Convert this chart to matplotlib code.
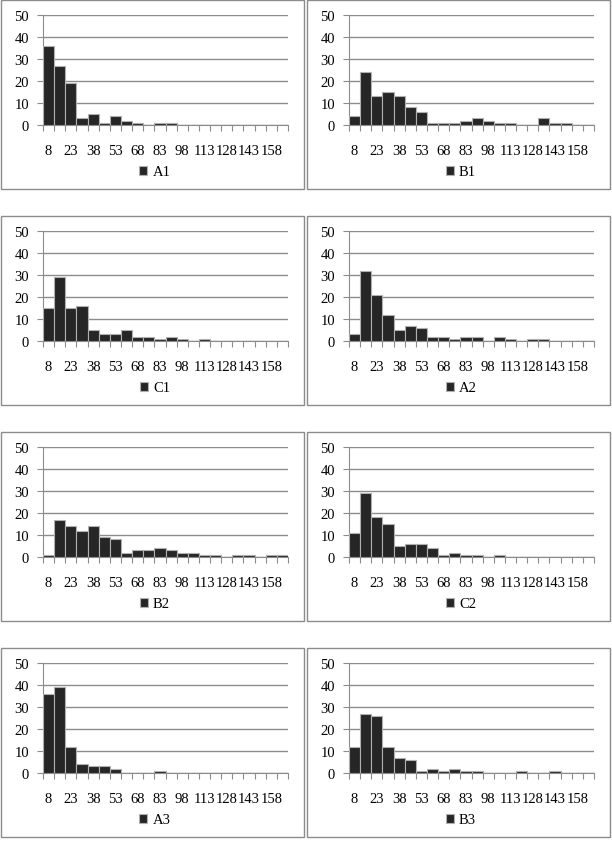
import numpy as np
import matplotlib
matplotlib.use("Agg")
import matplotlib.pyplot as plt
from matplotlib.patches import Rectangle

# bins of the histograms (labels shown on every other bin)
bins = ["8", "15", "23", "30", "38", "45", "53", "60", "68", "75", "83",
        "90", "98", "105", "113", "120", "128", "135", "143", "150", "158", "165"]

A1 = [36, 27, 19, 3, 5, 1, 4, 2, 1, 0, 1, 1, 0, 0, 0, 0, 0, 0, 0, 0, 0, 0]
B1 = [4, 24, 13, 15, 13, 8, 6, 1, 1, 1, 2, 3, 2, 1, 1, 0, 0, 3, 1, 1, 0, 0]
C1 = [15, 29, 15, 16, 5, 3, 3, 5, 2, 2, 1, 2, 1, 0, 1, 0, 0, 0, 0, 0, 0, 0]
A2 = [3, 32, 21, 12, 5, 7, 6, 2, 2, 1, 2, 2, 0, 2, 1, 0, 1, 1, 0, 0, 0, 0]
B2 = [1, 17, 14, 12, 14, 9, 8, 2, 3, 3, 4, 3, 2, 2, 1, 1, 0, 1, 1, 0, 1, 1]
C2 = [11, 29, 18, 15, 5, 6, 6, 4, 1, 2, 1, 1, 0, 1, 0, 0, 0, 0, 0, 0, 0, 0]
A3 = [36, 39, 12, 4, 3, 3, 2, 0, 0, 0, 1, 0, 0, 0, 0, 0, 0, 0, 0, 0, 0, 0]
B3 = [12, 27, 26, 12, 7, 6, 1, 2, 1, 2, 1, 1, 0, 0, 0, 1, 0, 0, 1, 0, 0, 0]

names = ["A1", "B1", "C1", "A2", "B2", "C2", "A3", "B3"]
series = [A1, B1, C1, A2, B2, C2, A3, B3]

plt.rcParams['font.family'] = ['Liberation Serif', 'DejaVu Serif']

W, H = 612, 853
fig = plt.figure(figsize=(W / 100, H / 100), dpi=100)

grey = "#8c8c8c"
fs = 10.5
n = len(bins)
x = np.arange(n)

for i, (name, vals) in enumerate(zip(names, series)):
    col, row = i % 2, i // 2
    pl = 1 + col * 306
    pt = 1 + row * 216
    # panel frame
    fig.patches.append(Rectangle((pl / W, 1 - (pt + 189) / H), 303 / W, 189 / H,
                                 transform=fig.transFigure, fill=False,
                                 edgecolor=grey, linewidth=1.0))
    ax = fig.add_axes([(pl + 42) / W, 1 - (pt + 125) / H, 245 / W, 110 / H])
    ax.bar(x, vals, width=1.0, color="#262626", edgecolor="#b0b0b0",
           linewidth=0.8, label=name, zorder=3)
    ax.set_xlim(-0.5, n - 0.5)
    ax.set_ylim(0, 50)
    ax.set_yticks(range(0, 51, 10))
    ax.yaxis.grid(True, color=grey, linewidth=1.0, zorder=0)
    for s in ["top", "right"]:
        ax.spines[s].set_visible(False)
    ax.spines["left"].set_color(grey)
    ax.spines["bottom"].set_color(grey)
    ax.set_xticks(np.arange(n + 1) - 0.5)
    ax.set_xticklabels([])
    ax.set_xticks(x[::2], minor=True)
    ax.set_xticklabels(bins[::2], minor=True)
    ax.tick_params(axis="x", which="major", length=4, color=grey, direction="out")
    ax.tick_params(axis="x", which="minor", length=0, pad=14, labelsize=fs)
    ax.tick_params(axis="y", length=4, color=grey, pad=6, labelsize=fs)
    ax.legend(loc="center", bbox_to_anchor=((pl + 154) / W, 1 - (pt + 172) / H),
              bbox_transform=fig.transFigure, frameon=False, fontsize=fs,
              handlelength=0.55, handleheight=0.55, handletextpad=0.35,
              borderpad=0)

fig.savefig("out.png", dpi=100)
